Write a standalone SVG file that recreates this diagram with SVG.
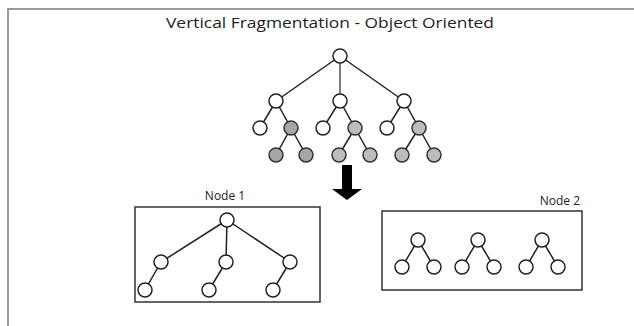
<svg xmlns="http://www.w3.org/2000/svg" width="634" height="326" viewBox="0 0 634 326">
<style>
.c{fill:#fff;stroke:#222;stroke-width:1.5}
.g1{fill:#a6a6a6;stroke:#333;stroke-width:1.5}
.g2{fill:#bdbdbd;stroke:#333;stroke-width:1.5}
.e{stroke:#222;stroke-width:1.5;fill:none}
.box{fill:none;stroke:#333;stroke-width:1.5}
.t{font-family:"Open Sans","Liberation Sans",sans-serif;fill:#222}
</style>
<rect width="634" height="326" fill="#fff"/>
<path d="M8 326 V9 H634" fill="none" stroke="#7a7a7a" stroke-width="1.5"/>
<text class="t" x="330" y="28" font-size="15" text-anchor="middle" textLength="328" lengthAdjust="spacingAndGlyphs">Vertical Fragmentation - Object Oriented</text>

<g id="connectors">
<g class="e">
<line x1="340" y1="56" x2="276" y2="101"/>
<line x1="340" y1="56" x2="340" y2="101" stroke="#555"/>
<line x1="340" y1="56" x2="404" y2="101"/>
<line x1="276" y1="101" x2="260" y2="128"/>
<line x1="276" y1="101" x2="291" y2="128"/>
<line x1="291" y1="128" x2="276" y2="155"/>
<line x1="291" y1="128" x2="306" y2="155"/>
<line x1="340" y1="101" x2="323" y2="128"/>
<line x1="340" y1="101" x2="355" y2="128"/>
<line x1="355" y1="128" x2="339" y2="155"/>
<line x1="355" y1="128" x2="370" y2="155"/>
<line x1="404" y1="101" x2="387" y2="128"/>
<line x1="404" y1="101" x2="419" y2="128"/>
<line x1="419" y1="128" x2="402" y2="155"/>
<line x1="419" y1="128" x2="434" y2="155"/>

<line x1="227" y1="220" x2="161" y2="262"/>
<line x1="227" y1="220" x2="226" y2="262"/>
<line x1="227" y1="220" x2="290" y2="262"/>
<line x1="161" y1="262" x2="145" y2="290"/>
<line x1="226" y1="262" x2="209" y2="290"/>
<line x1="290" y1="262" x2="273" y2="290"/>

<line x1="418" y1="240" x2="402" y2="267"/>
<line x1="418" y1="240" x2="434" y2="267"/>
<line x1="478" y1="240" x2="462" y2="267"/>
<line x1="478" y1="240" x2="494" y2="267"/>
<line x1="542" y1="240" x2="526" y2="267"/>
<line x1="542" y1="240" x2="558" y2="267"/>
</g>
<path d="M342 165 H352 V189 H362 L347 200 L332 189 H342 Z" fill="#000"/>
</g>

<g id="tree-original">
<circle class="c" cx="340" cy="56" r="7"/>
<circle class="c" cx="276" cy="101" r="7"/>
<circle class="c" cx="340" cy="101" r="7"/>
<circle class="c" cx="404" cy="101" r="7"/>
<circle class="c" cx="260" cy="128" r="7"/>
<circle class="g1" cx="291" cy="128" r="7"/>
<circle class="c" cx="323" cy="128" r="7"/>
<circle class="g2" cx="355" cy="128" r="7"/>
<circle class="c" cx="387" cy="128" r="7"/>
<circle class="g2" cx="419" cy="128" r="7"/>
<circle class="g1" cx="276" cy="155" r="7"/>
<circle class="g1" cx="306" cy="155" r="7"/>
<circle class="g2" cx="339" cy="155" r="7"/>
<circle class="g2" cx="370" cy="155" r="7"/>
<circle class="g2" cx="402" cy="155" r="7"/>
<circle class="g2" cx="434" cy="155" r="7"/>
</g>

<g id="node1">
<text class="t" x="225" y="200" font-size="12" text-anchor="middle">Node 1</text>
<rect class="box" x="135" y="207" width="185" height="95"/>
<circle class="c" cx="227" cy="220" r="7"/>
<circle class="c" cx="161" cy="262" r="7"/>
<circle class="c" cx="226" cy="262" r="7"/>
<circle class="c" cx="290" cy="262" r="7"/>
<circle class="c" cx="145" cy="290" r="7"/>
<circle class="c" cx="209" cy="290" r="7"/>
<circle class="c" cx="273" cy="290" r="7"/>
</g>

<g id="node2">
<text class="t" x="580" y="205" font-size="12" text-anchor="end">Node 2</text>
<rect class="box" x="382" y="211" width="200" height="79"/>
<circle class="c" cx="418" cy="240" r="7"/>
<circle class="c" cx="402" cy="267" r="7"/>
<circle class="c" cx="434" cy="267" r="7"/>
<circle class="c" cx="478" cy="240" r="7"/>
<circle class="c" cx="462" cy="267" r="7"/>
<circle class="c" cx="494" cy="267" r="7"/>
<circle class="c" cx="542" cy="240" r="7"/>
<circle class="c" cx="526" cy="267" r="7"/>
<circle class="c" cx="558" cy="267" r="7"/>
</g>
</svg>
